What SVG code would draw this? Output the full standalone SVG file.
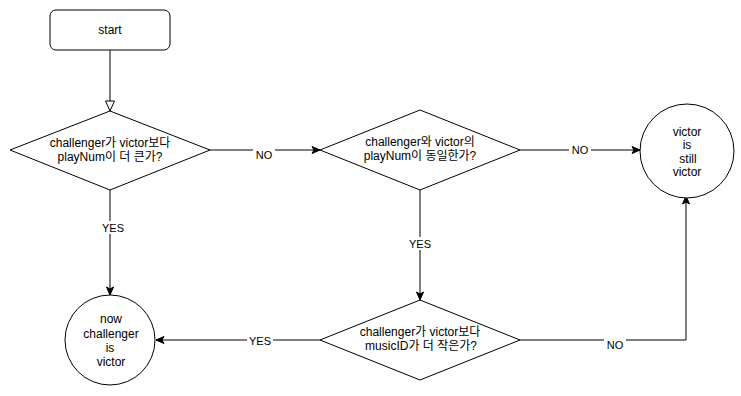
<svg xmlns="http://www.w3.org/2000/svg" width="741" height="396" viewBox="0 0 741 396">
  <style>
    .shape { fill: #ffffff; stroke: #000000; stroke-width: 1; }
    .edge { fill: none; stroke: #000000; stroke-width: 1; }
    text { font-family: "Liberation Sans", "Noto Sans CJK KR", sans-serif; font-size: 12px; fill: #000000; text-anchor: middle; dominant-baseline: central; }
    .lbl { font-size: 11px; }
    .bg { fill: #ffffff; }
  </style>
  <defs>
    <marker id="arrow" markerWidth="10" markerHeight="10" refX="9" refY="5" orient="auto" markerUnits="userSpaceOnUse">
      <path d="M1,1.5 L9,5 L1,8.5 L3,5 Z" fill="#000000" stroke="#000000" stroke-width="1"/>
    </marker>
    <marker id="open" markerWidth="12" markerHeight="12" refX="11" refY="6" orient="auto" markerUnits="userSpaceOnUse">
      <path d="M1,1.5 L11,6 L1,10.5 Z" fill="#ffffff" stroke="#000000" stroke-width="1"/>
    </marker>
  </defs>

  <rect width="741" height="396" fill="#ffffff"/>

  <!-- connectors -->
  <g id="edges">
    <path class="edge" d="M110,50 L110,111" marker-end="url(#open)"/>
    <path class="edge" d="M210,150 L320,150" marker-end="url(#arrow)"/>
    <path class="edge" d="M520,150 L640,150" marker-end="url(#arrow)"/>
    <path class="edge" d="M110,190 L110,295" marker-end="url(#arrow)"/>
    <path class="edge" d="M420,190 L420,300" marker-end="url(#arrow)"/>
    <path class="edge" d="M320,340 L156,340" marker-end="url(#arrow)"/>
    <path class="edge" d="M520,340 L686,340 L686,196" marker-end="url(#arrow)"/>

    <rect class="bg" x="253" y="143" width="22" height="13"/>
    <text class="lbl" x="264" y="155">NO</text>
    <rect class="bg" x="569" y="143" width="22" height="13"/>
    <text class="lbl" x="580" y="150">NO</text>
    <rect class="bg" x="100" y="221" width="26" height="13"/>
    <text class="lbl" x="113" y="228">YES</text>
    <rect class="bg" x="407" y="237" width="26" height="13"/>
    <text class="lbl" x="420" y="244">YES</text>
    <rect class="bg" x="247" y="334" width="26" height="13"/>
    <text class="lbl" x="260" y="341">YES</text>
    <rect class="bg" x="604" y="339" width="22" height="12"/>
    <text class="lbl" x="615" y="345">NO</text>
  </g>

  <g id="start">
    <rect class="shape" x="50" y="10" width="120" height="40" rx="6" ry="6"/>
    <text x="110" y="30">start</text>
  </g>

  <g id="check-playnum-greater">
    <polygon class="shape" points="110,111 210,150 110,190 10,150"/>
    <text x="110" y="143">challenger가 victor보다</text>
    <text x="110" y="157">playNum이 더 큰가?</text>
  </g>

  <g id="check-playnum-equal">
    <polygon class="shape" points="420,110 520,150 420,190 320,150"/>
    <text x="420" y="142">challenger와 victor의</text>
    <text x="420" y="156">playNum이 동일한가?</text>
  </g>

  <g id="victor-still">
    <circle class="shape" cx="687" cy="151" r="47"/>
    <text x="687" y="132">victor</text>
    <text x="687" y="145">is</text>
    <text x="688" y="159">still</text>
    <text x="687" y="172">victor</text>
  </g>

  <g id="check-musicid">
    <polygon class="shape" points="420,300 520,340 420,380 320,340"/>
    <text x="420" y="332">challenger가 victor보다</text>
    <text x="421" y="346">musicID가 더 작은가?</text>
  </g>

  <g id="challenger-wins">
    <circle class="shape" cx="110" cy="340" r="45"/>
    <text x="111" y="319">now</text>
    <text x="111" y="334">challenger</text>
    <text x="110" y="348">is</text>
    <text x="111" y="362">victor</text>
  </g>
</svg>
